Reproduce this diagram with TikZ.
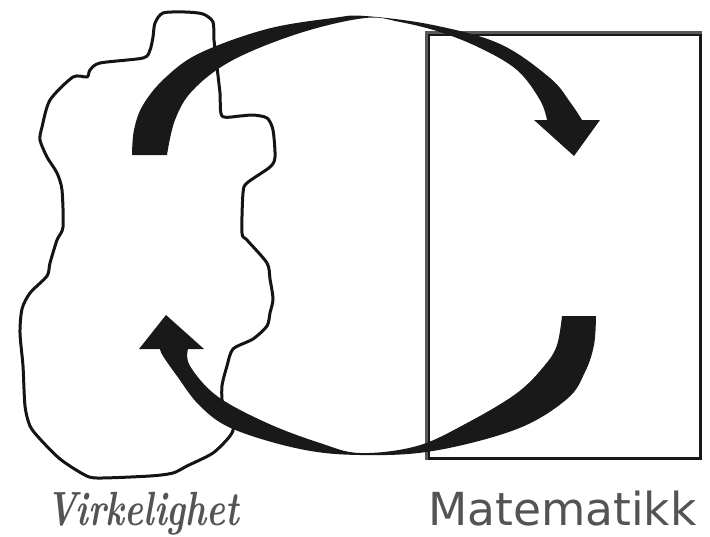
\documentclass[tikz,border=0pt]{standalone}
\usepackage{fontspec}
\setsansfont{DejaVu Sans}
\begin{document}
\begin{tikzpicture}[x=1pt,y=-1pt,
  blobline/.style={line width=3pt,black!92,line join=round},
  crescent/.style={fill=black!90},
  boxline/.style={line width=3pt},
  lbl/.style={text=black!67,inner sep=0pt}]
\useasboundingbox (0,0) rectangle (710,536);
\fill[white] (0,0) rectangle (710,536);
% Virkelighet blob
\draw[blobline] plot[smooth cycle,tension=0.45] coordinates {
(163,13)(185,12)(203,14)(213,22)(214,40)(217,67)(220,93)(222,116)(240,116)(253,115)(267,118)(273,130)(275,157)(270,167)(247,183)(243,193)(242,233)(247,240)(267,263)(270,279)(273,299)(270,313)(267,326)(253,339)(233,349)(227,366)(222,386)(223,406)(233,426)(230,436)(213,453)(187,466)(173,473)(150,476)(97,478)(83,474)(60,459)(40,439)(30,426)(25,406)(23,366)(20,333)(22,309)(30,293)(47,276)(50,263)(57,240)(63,227)(62,190)(57,173)(47,157)(40,140)(42,127)(50,100)(73,77)(87,77)(90,70)(100,63)(143,58)(150,50)(153,37)(155,23)};
% Matematikk box
\node[draw=black!90,boxline,minimum width=272pt,minimum height=424pt,inner sep=0pt] (math) at (564,246) {};
\draw[boxline,black!65] (math.south west) -- (math.north west) -- (math.north east);
% top arrow
\fill[crescent] plot[smooth,tension=0.6] coordinates {(132,155)(134,130)(143,105)(165,78)(200,53)(267,29)(333,18)(365,16)(433,25)(500,44)(550,78)(570,102)(582,120)}
 -- (600,120) -- (574,156) -- (534,120) --
 plot[smooth,tension=0.6] coordinates {(547,120)(540,100)(517,70)(480,48)(440,32)(400,22)(365,18)(300,33)(233,60)(193,90)(175,120)(167,155)} -- cycle;
% bottom arrow
\fill[crescent] plot[smooth,tension=0.6] coordinates {(596,316)(594,345)(585,372)(567,399)(517,429)(433,451)(360,455)(300,449)(233,429)(200,406)(177,376)(163,356)(160,349)}
 -- (139,349) -- (166,315) -- (204,349) --
 plot[smooth,tension=0.6] coordinates {(188,349)(190,366)(217,396)(267,423)(320,443)(360,453)(417,446)(467,423)(517,393)(545,365)(557,345)(562,316)} -- cycle;
% labels
\node[lbl,anchor=base west] (virk) at (46,525) {\scalebox{0.74}[1]{\fontsize{48}{52}\selectfont\textbf{\textit{Virkelighet}}}};
\node[lbl,anchor=base west,font=\sffamily\fontsize{45.5}{50}\selectfont] (mat) at (428,525) {Matematikk};
\end{tikzpicture}
\end{document}
